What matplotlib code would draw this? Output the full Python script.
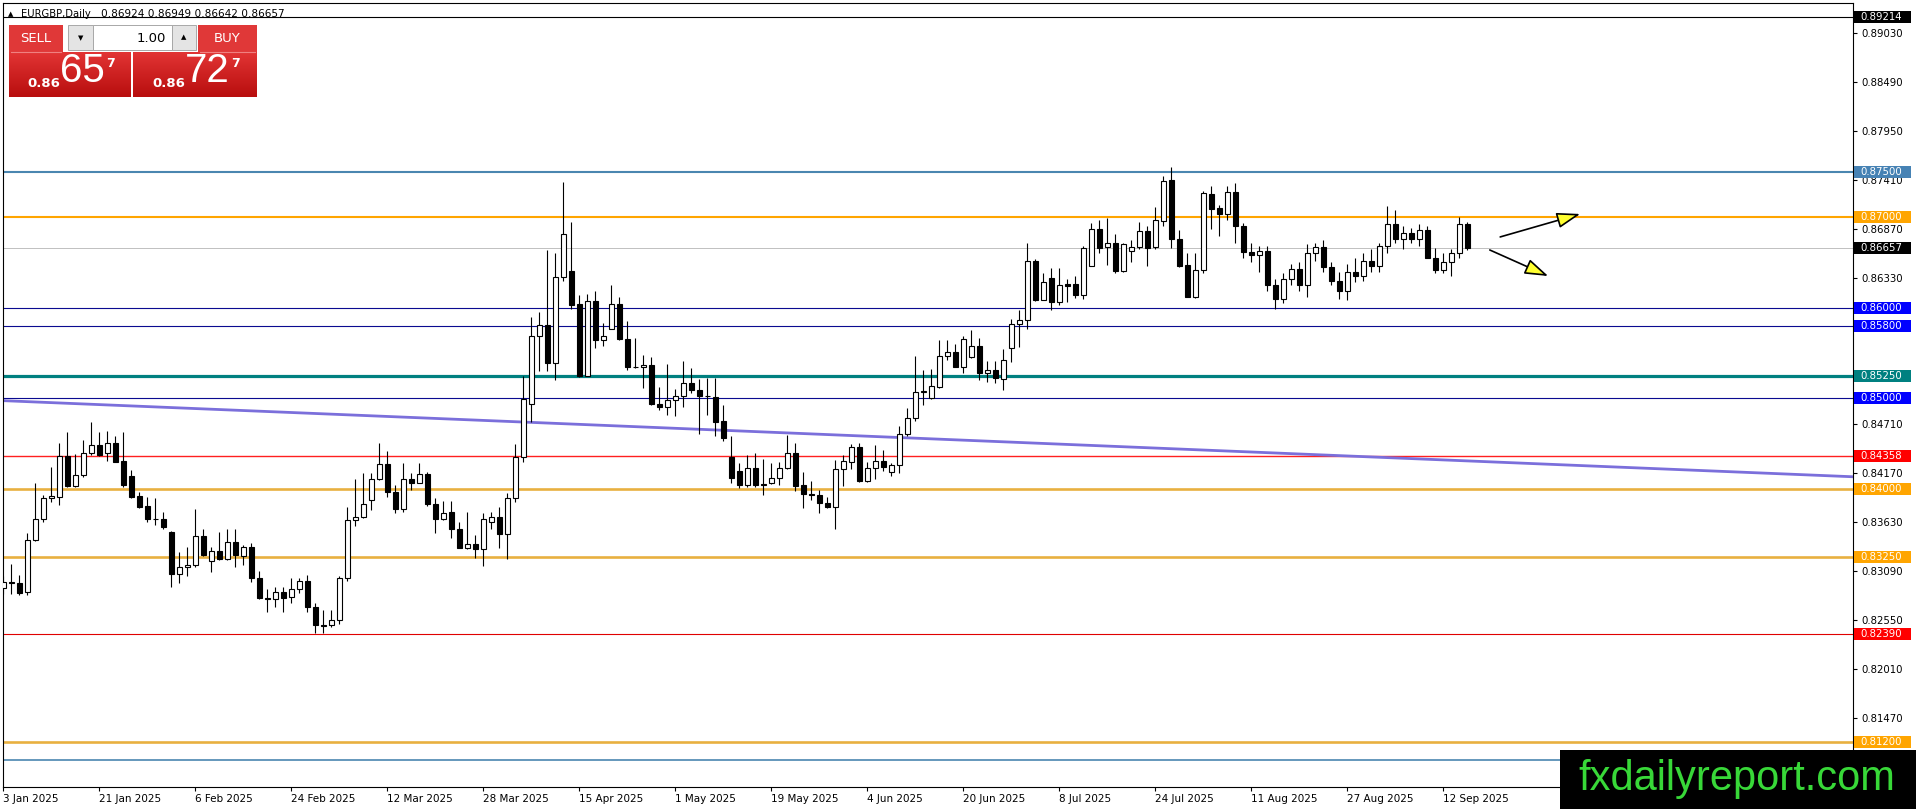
import numpy as np
import matplotlib.pyplot as plt
from matplotlib.patches import Rectangle
from matplotlib.colors import LinearSegmentedColormap

# ── EURGBP Daily : OHLC (3 Jan 2025 -> 17 Sep 2025) ────
opens = [
    0.8290, 0.8297, 0.8296, 0.8286, 0.8343, 0.8366, 0.8390, 0.8391, 0.8436, 0.8403,
    0.8415, 0.8439, 0.8448, 0.8439, 0.8450, 0.8431, 0.8414, 0.8392, 0.8381, 0.8367,
    0.8367, 0.8352, 0.8306, 0.8313, 0.8316, 0.8348, 0.8320, 0.8331, 0.8322, 0.8341,
    0.8326, 0.8336, 0.8301, 0.8279, 0.8278, 0.8286, 0.8280, 0.8289, 0.8298, 0.8269,
    0.8249, 0.8249, 0.8255, 0.8301, 0.8365, 0.8369, 0.8388, 0.8411, 0.8427, 0.8396,
    0.8378, 0.8411, 0.8406, 0.8416, 0.8383, 0.8367, 0.8374, 0.8355, 0.8334, 0.8339,
    0.8333, 0.8363, 0.8369, 0.8350, 0.8390, 0.8435, 0.8494, 0.8569, 0.8581, 0.8539,
    0.8634, 0.8641, 0.8604, 0.8524, 0.8607, 0.8564, 0.8576, 0.8604, 0.8565, 0.8535,
    0.8535, 0.8537, 0.8494, 0.8490, 0.8498, 0.8502, 0.8517, 0.8509, 0.8502, 0.8501,
    0.8475, 0.8435, 0.8420, 0.8404, 0.8423, 0.8405, 0.8406, 0.8412, 0.8423, 0.8440,
    0.8404, 0.8394, 0.8393, 0.8384, 0.8380, 0.8422, 0.8429, 0.8446, 0.8409, 0.8423,
    0.8431, 0.8418, 0.8426, 0.8461, 0.8478, 0.8507, 0.8500, 0.8512, 0.8547, 0.8551,
    0.8535, 0.8545, 0.8558, 0.8528, 0.8531, 0.8521, 0.8555, 0.8582, 0.8586, 0.8652,
    0.8609, 0.8633, 0.8606, 0.8626, 0.8626, 0.8614, 0.8646, 0.8687, 0.8667, 0.8671,
    0.8641, 0.8663, 0.8667, 0.8685, 0.8667, 0.8696, 0.8741, 0.8676, 0.8647, 0.8612,
    0.8642, 0.8726, 0.8710, 0.8703, 0.8728, 0.8690, 0.8662, 0.8658, 0.8663, 0.8625,
    0.8610, 0.8632, 0.8643, 0.8625, 0.8660, 0.8667, 0.8645, 0.8630, 0.8618, 0.8640,
    0.8635, 0.8652, 0.8646, 0.8668, 0.8692, 0.8676, 0.8683, 0.8676, 0.8686, 0.8655,
    0.8642, 0.8650, 0.8660, 0.86924,
]
highs = [
    0.8303, 0.8317, 0.8305, 0.8351, 0.8406, 0.8393, 0.8424, 0.8451, 0.8463, 0.8438,
    0.8454, 0.8474, 0.8463, 0.8464, 0.8458, 0.8463, 0.8421, 0.8396, 0.8391, 0.8390,
    0.8374, 0.8353, 0.8330, 0.8336, 0.8378, 0.8355, 0.8336, 0.8352, 0.8355, 0.8355,
    0.8338, 0.8340, 0.8309, 0.8289, 0.8291, 0.8291, 0.8301, 0.8301, 0.8305, 0.8274,
    0.8266, 0.8266, 0.8303, 0.8380, 0.8411, 0.8417, 0.8417, 0.8450, 0.8442, 0.8404,
    0.8428, 0.8417, 0.8428, 0.8419, 0.8390, 0.8386, 0.8386, 0.8363, 0.8374, 0.8349,
    0.8373, 0.8374, 0.8380, 0.8395, 0.8449, 0.8525, 0.8590, 0.8595, 0.8664, 0.8660,
    0.8739, 0.8695, 0.8614, 0.8615, 0.8618, 0.8583, 0.8625, 0.8612, 0.8585, 0.8566,
    0.8548, 0.8546, 0.8512, 0.8538, 0.8510, 0.8541, 0.8533, 0.8521, 0.8522, 0.8522,
    0.8493, 0.8458, 0.8428, 0.8437, 0.8440, 0.8433, 0.8428, 0.8429, 0.8459, 0.8450,
    0.8418, 0.8409, 0.8399, 0.8391, 0.8432, 0.8437, 0.8449, 0.8450, 0.8430, 0.8448,
    0.8443, 0.8428, 0.8469, 0.8489, 0.8547, 0.8531, 0.8532, 0.8564, 0.8564, 0.8560,
    0.8569, 0.8575, 0.8567, 0.8541, 0.8541, 0.8554, 0.8587, 0.8598, 0.8671, 0.8654,
    0.8638, 0.8644, 0.8644, 0.8632, 0.8635, 0.8668, 0.8694, 0.8697, 0.8699, 0.8681,
    0.8671, 0.8675, 0.8695, 0.8690, 0.8711, 0.8745, 0.8756, 0.8686, 0.8660, 0.8660,
    0.8729, 0.8734, 0.8714, 0.8734, 0.8738, 0.8694, 0.8672, 0.8668, 0.8668, 0.8632,
    0.8638, 0.8648, 0.8650, 0.8670, 0.8672, 0.8675, 0.8650, 0.8640, 0.8648, 0.8655,
    0.8660, 0.8665, 0.8672, 0.8712, 0.8708, 0.8690, 0.8688, 0.8692, 0.8690, 0.8666,
    0.8660, 0.8665, 0.8700, 0.86949,
]
lows = [
    0.8284, 0.8284, 0.8283, 0.8283, 0.8342, 0.8363, 0.8385, 0.8382, 0.8402, 0.8402,
    0.8413, 0.8437, 0.8436, 0.8431, 0.8429, 0.8402, 0.83895, 0.8379, 0.8363, 0.8360,
    0.8355, 0.8291, 0.8296, 0.8303, 0.8313, 0.8326, 0.8308, 0.8321, 0.8321, 0.8313,
    0.8316, 0.8297, 0.8278, 0.8264, 0.8269, 0.8264, 0.8274, 0.8285, 0.8264, 0.8241,
    0.8241, 0.8247, 0.8251, 0.8298, 0.8359, 0.8368, 0.8377, 0.8410, 0.8391, 0.8373,
    0.8374, 0.8399, 0.8406, 0.8381, 0.8351, 0.8365, 0.8345, 0.8334, 0.8333, 0.8323,
    0.8315, 0.8355, 0.8335, 0.8322, 0.8385, 0.8430, 0.8474, 0.8530, 0.8530, 0.8520,
    0.8629, 0.8599, 0.8523, 0.8524, 0.8556, 0.8558, 0.8576, 0.8564, 0.8531, 0.8533,
    0.8511, 0.8493, 0.8487, 0.8482, 0.8480, 0.8490, 0.8506, 0.8461, 0.8482, 0.8458,
    0.8453, 0.8406, 0.8401, 0.8402, 0.8402, 0.8393, 0.8405, 0.8404, 0.8422, 0.8397,
    0.8379, 0.8387, 0.8373, 0.8379, 0.8355, 0.8403, 0.8422, 0.8407, 0.8407, 0.8411,
    0.8420, 0.8414, 0.8417, 0.8458, 0.8475, 0.8493, 0.8499, 0.8511, 0.8542, 0.8534,
    0.8528, 0.8544, 0.8520, 0.8518, 0.8517, 0.8509, 0.8540, 0.8557, 0.8577, 0.8607,
    0.8608, 0.8597, 0.8603, 0.8606, 0.8611, 0.8610, 0.8646, 0.8660, 0.8647, 0.8638,
    0.8640, 0.8650, 0.8665, 0.8646, 0.8665, 0.8690, 0.8666, 0.8645, 0.8612, 0.8611,
    0.8638, 0.8687, 0.8679, 0.8697, 0.8672, 0.8655, 0.8650, 0.8640, 0.8618, 0.8599,
    0.8605, 0.8625, 0.8618, 0.8612, 0.8652, 0.8640, 0.8625, 0.8610, 0.8608, 0.8628,
    0.8630, 0.8640, 0.8640, 0.8660, 0.8672, 0.8665, 0.8672, 0.8668, 0.8655, 0.8638,
    0.8638, 0.8635, 0.8655, 0.86642,
]
closes = [
    0.8297, 0.8296, 0.8285, 0.8343, 0.8366, 0.8390, 0.8392, 0.8436, 0.8403, 0.8415,
    0.8439, 0.8448, 0.8437, 0.8450, 0.8430, 0.8404, 0.8391, 0.8380, 0.8366, 0.8366,
    0.8358, 0.8306, 0.8313, 0.8316, 0.8348, 0.8327, 0.8331, 0.8322, 0.8341, 0.8327,
    0.8336, 0.8301, 0.8279, 0.8278, 0.8286, 0.8279, 0.8289, 0.8298, 0.8269, 0.8249,
    0.8248, 0.8255, 0.8301, 0.8365, 0.8369, 0.8383, 0.8411, 0.8427, 0.8396, 0.8378,
    0.8411, 0.8406, 0.8416, 0.8383, 0.8367, 0.8373, 0.8355, 0.8334, 0.8339, 0.8333,
    0.8367, 0.8369, 0.8350, 0.8390, 0.8435, 0.8499, 0.8569, 0.8581, 0.8539, 0.8634,
    0.8682, 0.8603, 0.8524, 0.8607, 0.8564, 0.8569, 0.8604, 0.8565, 0.8535, 0.8534,
    0.8537, 0.8494, 0.8490, 0.8498, 0.8502, 0.8517, 0.8509, 0.8502, 0.8502, 0.8474,
    0.8456, 0.8412, 0.8404, 0.8423, 0.8404, 0.8404, 0.8412, 0.8423, 0.8440, 0.8403,
    0.8394, 0.8393, 0.8384, 0.8380, 0.8422, 0.8431, 0.8446, 0.8409, 0.8423, 0.8431,
    0.8424, 0.8426, 0.8461, 0.8478, 0.8507, 0.8508, 0.8513, 0.8547, 0.8551, 0.8535,
    0.8565, 0.8558, 0.8528, 0.8531, 0.8522, 0.8542, 0.8582, 0.8586, 0.8652, 0.8609,
    0.8628, 0.8606, 0.8625, 0.8624, 0.8614, 0.8666, 0.8687, 0.8666, 0.8671, 0.8641,
    0.8670, 0.8667, 0.8685, 0.8666, 0.8697, 0.8740, 0.8676, 0.8646, 0.8612, 0.8642,
    0.8727, 0.8709, 0.8704, 0.8728, 0.8690, 0.8662, 0.8658, 0.8663, 0.8625, 0.8610,
    0.8632, 0.8643, 0.8625, 0.8660, 0.8667, 0.8645, 0.8630, 0.8618, 0.8640, 0.8635,
    0.8652, 0.8646, 0.8668, 0.8692, 0.8676, 0.8683, 0.8676, 0.8686, 0.8655, 0.8642,
    0.8650, 0.8660, 0.8692, 0.86657,
]

date_labels = [
    "3 Jan 2025", "21 Jan 2025", "6 Feb 2025", "24 Feb 2025", "12 Mar 2025",
    "28 Mar 2025", "15 Apr 2025", "1 May 2025", "19 May 2025", "4 Jun 2025",
    "20 Jun 2025", "8 Jul 2025", "24 Jul 2025", "11 Aug 2025", "27 Aug 2025",
    "12 Sep 2025",
]
LABEL_STEP = 12  # une étiquette toutes les 12 barres

# ── Niveaux horizontaux ──────────────────────────────────────────────────────
levels = [0.89214, 0.87500, 0.87000, 0.86657, 0.86000, 0.85800, 0.85250,
          0.85000, 0.84358, 0.84000, 0.83250, 0.82390, 0.81200, 0.81000]
level_line_colors = ["black", "#4A86B0", "#FFA500", "#C0C0C0", "#0A0A90", "#0A0A90",
                     "#008080", "#0A0A90", "#FF2020", "#E8B040", "#E8B040", "#E00000",
                     "#E8B040", "#4A86B0"]
level_widths = [0.8, 1.5, 1.5, 0.7, 0.8, 0.8, 2.3, 0.8, 1.0, 1.9, 1.9, 0.8, 1.9, 1.2]
# étiquette de prix (None = cachée par le filigrane)
level_tag_colors = ["black", "#4682B4", "#FFA500", "black", "#0000FF", "#0000FF",
                    "#008080", "#0000FF", "#FF0000", "#FFA500", "#FFA500", "#FF0000",
                    "#FFA500", None]

axis_ticks = [0.89030, 0.88490, 0.87950, 0.87410, 0.86870, 0.86330, 0.85790,
              0.85250, 0.84710, 0.84170, 0.83630, 0.83090, 0.82550, 0.82010, 0.81470]

# ligne de tendance (barre, prix)
trend_x = [0.0, 231.2]
trend_y = [0.84973, 0.84132]

# flèches (départ -> pointe), en (barre, prix)
arrow_up = [(187.1, 0.86782), (197.1, 0.87036)]
arrow_down = [(185.8, 0.86638), (193.1, 0.86350)]

# ── Figure ───────────────────────────────────────────────────────────────────
W_PX, H_PX = 1916, 809
fig = plt.figure(figsize=(W_PX / 100, H_PX / 100), dpi=100)
fig.patch.set_facecolor("white")
ax = fig.add_axes([3 / W_PX, 22 / H_PX, 1850 / W_PX, 784 / H_PX])
ax.set_xlim(-0.04, 231.2)
ax.set_ylim(0.80704, 0.89367)

o = np.array(opens)
h = np.array(highs)
l = np.array(lows)
c = np.array(closes)
x = np.arange(len(c))
up = c >= o
body_bot = np.minimum(o, c)
body_h = np.abs(c - o)

for p, col, lw in zip(levels, level_line_colors, level_widths):
    ax.axhline(p, color=col, lw=lw, zorder=1)

ax.plot(trend_x, trend_y, color="#7B6FDB", lw=2.0, zorder=1.5)

ax.vlines(x, l, h, color="black", lw=0.8, zorder=3)
ax.bar(x[up], body_h[up], bottom=body_bot[up], width=0.62, facecolor="white",
       edgecolor="black", linewidth=0.8, zorder=4)
ax.bar(x[~up], body_h[~up], bottom=body_bot[~up], width=0.62, facecolor="black",
       edgecolor="black", linewidth=0.8, zorder=4)

for start, tip in (arrow_up, arrow_down):
    ax.annotate("", xy=tip, xytext=start,
                arrowprops=dict(arrowstyle="-|>,head_length=0.9,head_width=0.3",
                                mutation_scale=16, fc="#FFFF30", ec="black", lw=1.2,
                                shrinkA=0, shrinkB=0), zorder=6)

for s in ax.spines.values():
    s.set_color("black")
    s.set_linewidth(0.8)

ax.set_yticks(axis_ticks)
ax.set_yticklabels([f"{v:.5f}" for v in axis_ticks])
ax.tick_params(axis="y", left=False, right=True, labelleft=False, labelright=True,
               length=3, width=0.8, pad=3, labelsize=7.3, direction="out")
ax.set_xticks(np.arange(0, len(date_labels) * LABEL_STEP, LABEL_STEP))
ax.set_xticklabels(date_labels)
ax.tick_params(axis="x", length=3, width=0.8, pad=2, labelsize=7.5, direction="out")
plt.setp(ax.get_xticklabels(), ha="left")

# ── Calque en pixels pour les étiquettes et le panneau ─────────────────────
ov = fig.add_axes([0, 0, 1, 1], zorder=5)
ov.set_xlim(0, W_PX)
ov.set_ylim(H_PX, 0)
ov.axis("off")


def price_to_py(p):
    return H_PX - ax.transData.transform((0, p))[1]


for p, col in zip(levels, level_tag_colors):
    if col is None:
        continue
    yy = price_to_py(p)
    ov.add_patch(Rectangle((1854, yy - 6), 57, 12, facecolor=col, edgecolor="none"))
    ov.text(1860, yy, f"{p:.5f}", color="white", fontsize=7.3, va="center", ha="left")

# titre du graphique
ov.text(8, 14, "▲", fontsize=5, va="center", ha="left", color="black")
ov.text(21, 14, "EURGBP,Daily", fontsize=7.2, va="center", ha="left", color="black")
ov.text(101, 14, "0.86924 0.86949 0.86642 0.86657", fontsize=7.6, va="center",
        ha="left", color="black")

# panneau SELL / BUY
red_cmap = LinearSegmentedColormap.from_list("redgrad", ["#E23434", "#B80E0E"])
grad = np.linspace(0, 1, 64).reshape(-1, 1)
for x0, x1 in ((9, 131), (133, 257)):
    ov.imshow(grad, extent=(x0, x1, 97, 52), cmap=red_cmap, aspect="auto", zorder=1)
ov.add_patch(Rectangle((9, 25), 54, 27, facecolor="#E03838", edgecolor="none", zorder=1))
ov.add_patch(Rectangle((198, 25), 59, 27, facecolor="#E03838", edgecolor="none", zorder=1))
ov.plot([11, 61], [51.5, 51.5], color="#F08080", lw=0.8, zorder=2)
ov.plot([200, 255], [51.5, 51.5], color="#F08080", lw=0.8, zorder=2)
ov.add_patch(Rectangle((68, 25), 25, 25, facecolor="#E4E4E4", edgecolor="#A8A8A8",
                       lw=0.7, zorder=1))
ov.add_patch(Rectangle((93, 25), 79, 25, facecolor="white", edgecolor="#A8A8A8",
                       lw=0.7, zorder=1))
ov.add_patch(Rectangle((172, 25), 24, 25, facecolor="#E4E4E4", edgecolor="#A8A8A8",
                       lw=0.7, zorder=1))
ov.text(80.5, 38, "▼", fontsize=5, ha="center", va="center", color="black", zorder=3)
ov.text(184, 37, "▲", fontsize=5, ha="center", va="center", color="black", zorder=3)
ov.text(166, 38, "1.00", fontsize=9.5, ha="right", va="center", color="black", zorder=3)
ov.text(36, 38, "SELL", fontsize=9.5, ha="center", va="center", color="white", zorder=3)
ov.text(227, 38, "BUY", fontsize=9.5, ha="center", va="center", color="white", zorder=3)

for bx, big in ((27, "65"), (152, "72")):
    ov.text(bx, 83, "0.86", fontsize=9.5, fontweight="bold", ha="left", va="center",
            color="white", zorder=3)
    ov.text(bx + 33, 71, big, fontsize=29, family="Liberation Sans", ha="left",
            va="center", color="white", zorder=3)
    ov.text(bx + 79, 63, "7", fontsize=9, fontweight="bold", ha="left", va="center",
            color="white", zorder=3)

ov.set_xlim(0, W_PX)
ov.set_ylim(H_PX, 0)

# filigrane
ov.add_patch(Rectangle((1560, 750), 356, 59, facecolor="black", edgecolor="none", zorder=4))
ov.text(1737, 779, "fxdailyreport.com", fontsize=30, family="Liberation Sans",
        color="#38D838", ha="center", va="center", zorder=5)

fig.savefig("out.png", dpi=100)
